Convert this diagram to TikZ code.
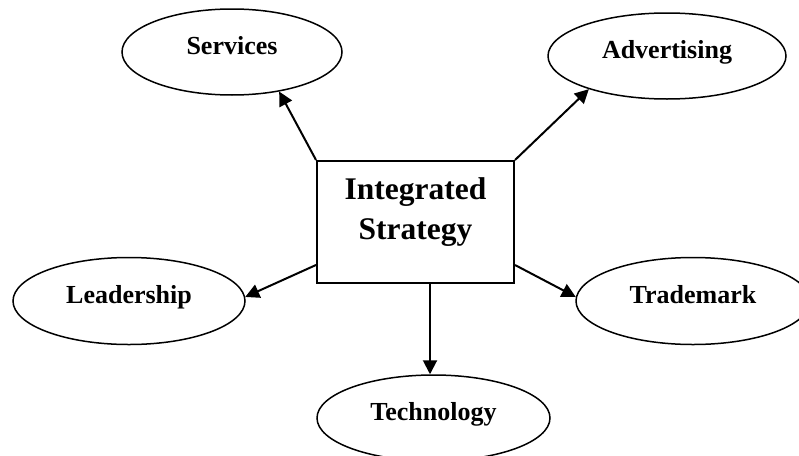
\documentclass[tikz,border=0pt]{standalone}
\usepackage{fontspec}
\setmainfont{Liberation Serif}
\usetikzlibrary{shapes.geometric,arrows.meta}
\begin{document}
\begin{tikzpicture}[x=1pt,y=-1pt,
  oval/.style={draw,ellipse,line width=1.5pt,inner sep=0pt,
    font=\fontsize{26}{30}\selectfont\bfseries,text height=19pt,text depth=15pt},
  box/.style={draw,rectangle,line width=2pt,minimum width=197pt,minimum height=122pt,inner sep=0pt},
  arr/.style={line width=2pt,-{Triangle[length=14pt,width=14pt]}}]
\useasboundingbox (0,0) rectangle (799,455);
\clip (0,0) rectangle (799,455);
\node[box] (IS) at (415.5,222) {};
\node[align=center,font=\fontsize{31.5}{40}\selectfont\bfseries] (ISt) at (415.5,212) {Integrated\\Strategy};
\node[oval,minimum width=220pt,minimum height=86pt] (Serv) at (232,52) {Services};
\node[oval,minimum width=238pt,minimum height=86pt] (Adv) at (667,56) {Advertising};
\node[oval,minimum width=232pt,minimum height=87pt] (Lead) at (129,301) {Leadership};
\node[oval,minimum width=234pt,minimum height=87pt] (Trade) at (693,301) {Trademark};
\node[oval,minimum width=233pt,minimum height=86pt] (Tech) at (433.5,418) {Technology};
\draw[arr] (IS.north west) -- (Serv.-40);
\draw[arr] (IS.north east) -- (Adv.203);
\draw[arr] ([yshift=-43pt]IS.west) -- (Lead.2);
\draw[arr] ([yshift=-43pt]IS.east) -- (Trade.178);
\draw[arr] ([xshift=14.5pt]IS.south) -- ([xshift=14.5pt]IS.south |- Tech.north);
\end{tikzpicture}
\end{document}
